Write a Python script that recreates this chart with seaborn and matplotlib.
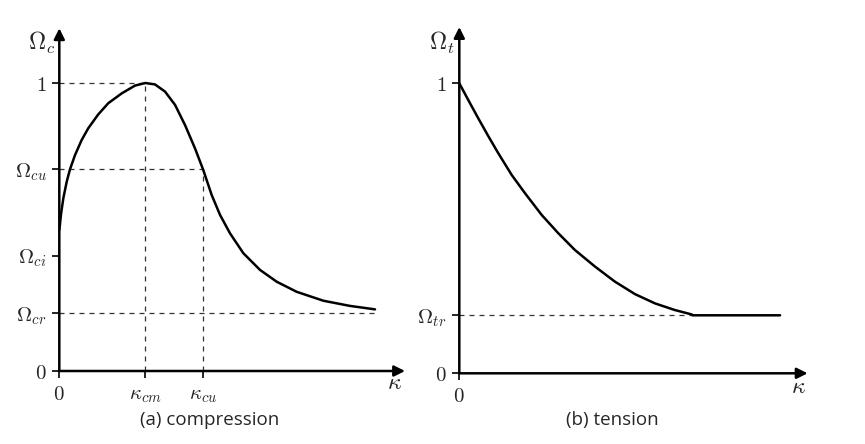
import numpy as np
import pandas as pd
import matplotlib
matplotlib.use("Agg")
import matplotlib.pyplot as plt
import seaborn as sns

# ---- data ----
comp_kappa = [0.0, 0.008, 0.020, 0.047, 0.086, 0.124, 0.183, 0.260, 0.337, 0.453, 0.570,
              0.726, 0.880, 1.0, 1.113, 1.230, 1.346, 1.462, 1.578, 1.674, 1.772, 1.869,
              1.985, 2.140, 2.334, 2.528, 2.760, 3.070, 3.380, 3.671]
comp_omega = [0.49, 0.51, 0.545, 0.600, 0.657, 0.700, 0.750, 0.802, 0.843, 0.891, 0.930,
              0.964, 0.991, 1.0, 0.995, 0.970, 0.924, 0.854, 0.773, 0.698, 0.611, 0.542,
              0.478, 0.409, 0.351, 0.310, 0.275, 0.244, 0.226, 0.214]

tens_kappa = [0.0, 0.105, 0.221, 0.337, 0.453, 0.609, 0.764, 0.958, 1.151, 1.345, 1.578,
              1.810, 2.043, 2.276, 2.508, 2.702, 2.713, 3.73]
tens_omega = [1.0, 0.942, 0.879, 0.818, 0.759, 0.684, 0.621, 0.546, 0.483, 0.425, 0.368,
              0.316, 0.273, 0.241, 0.218, 0.203, 0.20, 0.20]

comp_yvals = [0.0, 0.20, 0.40, 0.70, 1.0]
comp_ylabels = [r"$0$", r"$\Omega_{cr}$", r"$\Omega_{ci}$", r"$\Omega_{cu}$", r"$1$"]
comp_xvals = [0.0, 1.0, 1.67]
comp_xlabels = [r"$0$", r"$\kappa_{cm}$", r"$\kappa_{cu}$"]
omega_cr = 0.20
omega_cu = 0.70
kappa_cm = 1.0
kappa_cu = 1.67

tens_yvals = [0.0, 0.20, 1.0]
tens_ylabels = [r"$0$", r"$\Omega_{tr}$", r"$1$"]
tens_xvals = [0.0]
tens_xlabels = [r"$0$"]
omega_tr = 0.20
kappa_tr = 2.713

captions = ["(a) compression", "(b) tension"]

# ---- style ----
sns.set_theme(style="white")
plt.rcParams["mathtext.fontset"] = "cm"
plt.rcParams["font.family"] = ["Open Sans", "DejaVu Sans"]

W, H = 865, 444
fig = plt.figure(figsize=(W / 100, H / 100), dpi=100)

def make_axes(ox, oy, sx, sy, xmax, ymax):
    left = ox / W
    bottom = (H - oy) / H
    width = xmax * sx / W
    height = ymax * sy / H
    return fig.add_axes([left, bottom, width, height])

ax1 = make_axes(59.3, 371.0, 86.0, 288.0, 4.1, 1.22)
ax2 = make_axes(459.3, 373.3, 86.0, 290.0, 4.1, 1.22)

for ax in (ax1, ax2):
    ax.set_xlim(0, 4.1)
    ax.set_ylim(0, 1.22)
    for s in ax.spines.values():
        s.set_visible(False)
    ax.patch.set_alpha(0)
    ax.tick_params(axis="both", which="both", direction="out", length=5, width=1.2,
                   color="black", labelsize=15, pad=4,
                   left=True, bottom=True)

# dashed guides (compression)
dash = dict(color="#333333", lw=0.9, ls=(0, (4, 4)), zorder=1)
ax1.plot([0, kappa_cm], [1, 1], **dash)
ax1.plot([kappa_cm, kappa_cm], [0, 1], **dash)
ax1.plot([0, kappa_cu], [omega_cu, omega_cu], **dash)
ax1.plot([kappa_cu, kappa_cu], [0, omega_cu], **dash)
ax1.plot([0, comp_kappa[-1]], [omega_cr, omega_cr], **dash)
# dashed guide (tension)
ax2.plot([0, kappa_tr], [omega_tr, omega_tr], **dash)

# curves
df_c = pd.DataFrame({"kappa": comp_kappa, "omega": comp_omega})
df_t = pd.DataFrame({"kappa": tens_kappa, "omega": tens_omega})
sns.lineplot(data=df_c, x="kappa", y="omega", ax=ax1, color="black", lw=1.8,
             sort=False, estimator=None, zorder=3)
sns.lineplot(data=df_t, x="kappa", y="omega", ax=ax2, color="black", lw=1.8,
             sort=False, estimator=None, zorder=3)

# axes arrows
arr = dict(arrowstyle="-|>", lw=1.8, color="black", mutation_scale=16,
           shrinkA=0, shrinkB=0)
ax1.annotate("", xy=(4.02, 0), xytext=(0, 0), arrowprops=arr, annotation_clip=False)
ax1.annotate("", xy=(0, 1.19), xytext=(0, 0), arrowprops=arr, annotation_clip=False)
ax2.annotate("", xy=(4.05, 0), xytext=(0, 0), arrowprops=arr, annotation_clip=False)
ax2.annotate("", xy=(0, 1.194), xytext=(0, 0), arrowprops=arr, annotation_clip=False)

# ticks
ax1.set_yticks(comp_yvals, comp_ylabels)
ax1.set_xticks(comp_xvals, comp_xlabels)
ax2.set_yticks(tens_yvals, tens_ylabels)
ax2.set_xticks(tens_xvals, tens_xlabels)
for ax in (ax1, ax2):
    ax.set_xlabel("")
    ax.set_ylabel("")

# axis names
ax1.text(-0.05, 1.14, r"$\Omega_c$", ha="right", va="center", fontsize=17)
ax1.text(3.90, -0.042, r"$\kappa$", ha="center", va="center", fontsize=17)
ax2.text(-0.05, 1.14, r"$\Omega_t$", ha="right", va="center", fontsize=17)
ax2.text(3.94, -0.048, r"$\kappa$", ha="center", va="center", fontsize=17)

# captions
fig.text(210 / W, 1 - 420 / H, captions[0], ha="center", va="center", fontsize=13.5)
fig.text(612 / W, 1 - 420 / H, captions[1], ha="center", va="center", fontsize=13.5)

fig.savefig("out.png", dpi=100)
